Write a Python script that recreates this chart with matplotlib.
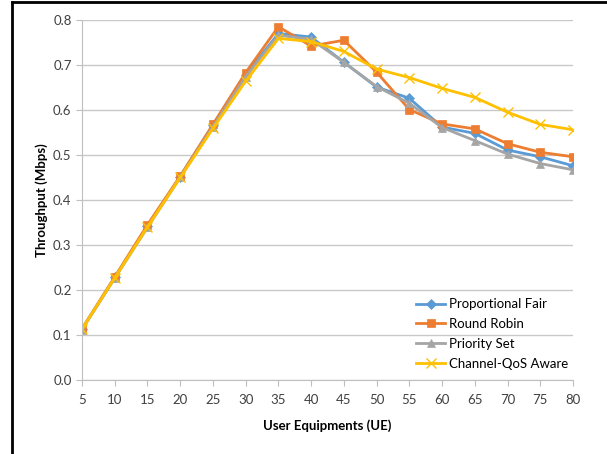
import numpy as np
import matplotlib.pyplot as plt
from matplotlib.lines import Line2D

plt.rcParams['font.family'] = ['Lato', 'DejaVu Sans']

# number of user equipments
ue = [5, 10, 15, 20, 25, 30, 35, 40, 45, 50, 55, 60, 65, 70, 75, 80]

# throughput per scheduler (Mbps)
prop_fair = [0.113, 0.228, 0.342, 0.452, 0.566, 0.678, 0.770, 0.762, 0.706, 0.651, 0.626, 0.562, 0.548, 0.511, 0.496, 0.476]
round_robin = [0.114, 0.229, 0.345, 0.453, 0.568, 0.683, 0.785, 0.742, 0.755, 0.684, 0.601, 0.569, 0.558, 0.525, 0.506, 0.496]
priority_set = [0.112, 0.226, 0.339, 0.450, 0.563, 0.674, 0.766, 0.757, 0.706, 0.652, 0.615, 0.561, 0.532, 0.502, 0.481, 0.467]
qos_aware = [0.113, 0.227, 0.340, 0.450, 0.559, 0.664, 0.759, 0.752, 0.730, 0.691, 0.672, 0.648, 0.628, 0.595, 0.568, 0.556]

series = [
    ('Proportional Fair', prop_fair, '#5B9BD5', 'D', 5),
    ('Round Robin', round_robin, '#ED7D31', 's', 6),
    ('Priority Set', priority_set, '#A5A5A5', '^', 6),
    ('Channel-QoS Aware', qos_aware, '#FFC000', 'x', 7),
]

fig = plt.figure(figsize=(6.07, 4.54), dpi=100)
ax = fig.add_axes([0.1351, 0.163, 0.8089, 0.793])

for name, vals, col, mk, ms in series:
    ax.plot(ue, vals, color=col, marker=mk, markersize=ms, linewidth=2,
            label=name, markeredgewidth=1 if mk == 'x' else 0.5)

ax.set_xlim(5, 80)
ax.set_ylim(0, 0.8)
ax.set_xticks(ue)
ax.set_yticks(np.arange(0, 0.81, 0.1))
ax.set_yticklabels(['%.1f' % v for v in np.arange(0, 0.81, 0.1)])
ax.grid(axis='y', color='#c8c8c8', linewidth=1)
ax.set_axisbelow(True)

for s in ['top', 'right']:
    ax.spines[s].set_visible(False)
for s in ['left', 'bottom']:
    ax.spines[s].set_color('#bfbfbf')
ax.tick_params(axis='both', colors='#bfbfbf', labelcolor='#404040', labelsize=9.5, length=4)
ax.tick_params(axis='x', pad=6)

ax.set_xlabel('User Equipments (UE)', fontsize=9.5, fontweight='bold', labelpad=10)
ax.set_ylabel('Throughput (Mbps)', fontsize=9.5, fontweight='bold', labelpad=4)

ax.legend(loc='lower right', bbox_to_anchor=(1.015, -0.005), frameon=False, fontsize=9.5,
          handlelength=2.2, handletextpad=0.3, labelspacing=0.6)

# black frame lines on the left and top
fig.add_artist(Line2D([0.019, 0.019], [0, 0.995], color='black', linewidth=2, transform=fig.transFigure))
fig.add_artist(Line2D([0.019, 1.0], [0.995, 0.995], color='black', linewidth=2, transform=fig.transFigure))

fig.savefig('out.png', dpi=100)
